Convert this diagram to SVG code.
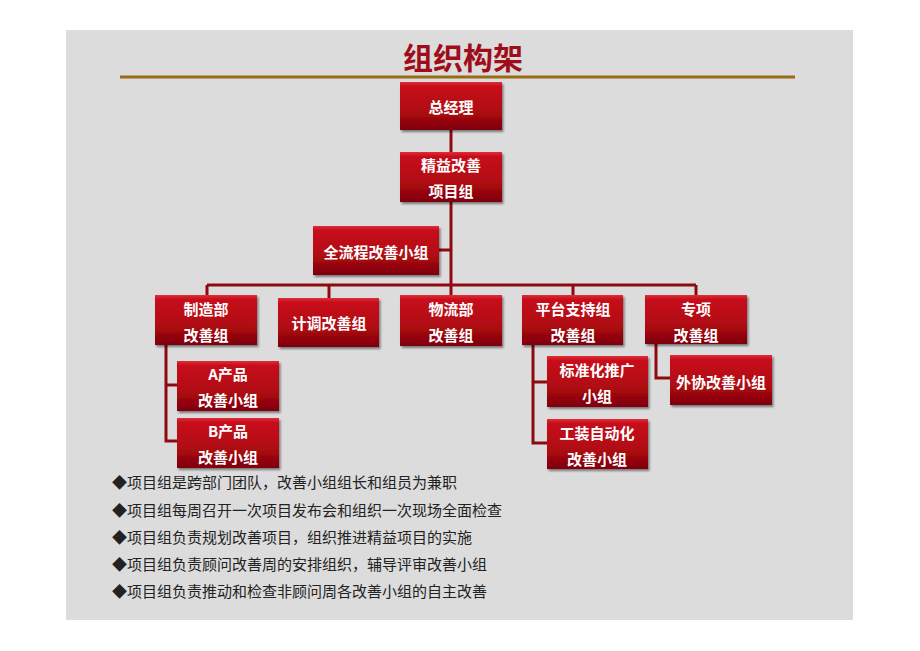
<svg xmlns="http://www.w3.org/2000/svg" width="920" height="651" viewBox="0 0 920 651">
<defs>
<linearGradient id="rg" x1="0" y1="0" x2="0" y2="1">
<stop offset="0" stop-color="#E0303A"/>
<stop offset="0.08" stop-color="#C8101C"/>
<stop offset="0.6" stop-color="#B00812"/>
<stop offset="1" stop-color="#7E040A"/>
</linearGradient>
<filter id="sh" x="-10%" y="-10%" width="125%" height="130%">
<feDropShadow dx="1.5" dy="2" stdDeviation="1.2" flood-color="#000" flood-opacity="0.45"/>
</filter>
<style>
.box{fill:url(#rg);filter:url(#sh);}
.t{font-family:"Noto Sans CJK SC","Liberation Sans",sans-serif;font-weight:bold;font-size:15px;fill:#fff;text-anchor:middle;dominant-baseline:central;}
.c{stroke:#8E0A10;stroke-width:3;fill:none;}
.b{font-family:"Liberation Serif","Noto Sans CJK SC",serif;font-size:15px;fill:#222;}
</style>
</defs>
<rect x="0" y="0" width="920" height="651" fill="#fff"/>
<rect x="66" y="30" width="787" height="590" fill="#DCDCDC"/>
<text x="463" y="56" font-family="Noto Sans CJK SC, sans-serif" font-weight="bold" font-size="30" fill="#A00D1A" text-anchor="middle" dominant-baseline="central">组织构架</text>
<line x1="120" y1="77" x2="795" y2="77" stroke="#9A6A17" stroke-width="3"/>
<g id="connectors">
<path class="c" d="M451 130V285"/>
<path class="c" d="M439 250H451"/>
<path class="c" d="M207 285H696"/>
<path class="c" d="M207 285V295M329 285V298M451 285V295M573 285V295M696 285V295"/>
<path class="c" d="M166 345V441H178M166 385H178"/>
<path class="c" d="M533 345V443H547M533 382H547"/>
<path class="c" d="M656 344V378H670"/>
</g>
<g id="n1"><rect class="box" x="400" y="82" width="102" height="48"/><text class="t" x="451" y="106">总经理</text></g>
<g id="n2"><rect class="box" x="400" y="152" width="102" height="50"/><text class="t" x="451" y="164">精益改善</text><text class="t" x="451" y="190">项目组</text></g>
<g id="n3"><rect class="box" x="313" y="226" width="126" height="49"/><text class="t" x="376" y="251">全流程改善小组</text></g>
<g id="n4"><rect class="box" x="155" y="295" width="102" height="50"/><text class="t" x="206" y="308">制造部</text><text class="t" x="206" y="334">改善组</text></g>
<g id="n5"><rect class="box" x="278" y="298" width="101" height="49"/><text class="t" x="329" y="322">计调改善组</text></g>
<g id="n6"><rect class="box" x="400" y="295" width="102" height="51"/><text class="t" x="451" y="308">物流部</text><text class="t" x="451" y="334">改善组</text></g>
<g id="n7"><rect class="box" x="522" y="295" width="101" height="50"/><text class="t" x="573" y="308">平台支持组</text><text class="t" x="573" y="334">改善组</text></g>
<g id="n8"><rect class="box" x="645" y="295" width="102" height="49"/><text class="t" x="696" y="308">专项</text><text class="t" x="696" y="334">改善组</text></g>
<g id="n9"><rect class="box" x="177" y="361" width="102" height="50"/><text class="t" x="228" y="373">A产品</text><text class="t" x="228" y="399">改善小组</text></g>
<g id="n10"><rect class="box" x="177" y="418" width="102" height="50"/><text class="t" x="228" y="430">B产品</text><text class="t" x="228" y="456">改善小组</text></g>
<g id="n11"><rect class="box" x="547" y="356" width="101" height="51"/><text class="t" x="597" y="369">标准化推广</text><text class="t" x="597" y="395">小组</text></g>
<g id="n12"><rect class="box" x="547" y="419" width="101" height="50"/><text class="t" x="597" y="432">工装自动化</text><text class="t" x="597" y="458">改善小组</text></g>
<g id="n13"><rect class="box" x="670" y="355" width="102" height="50"/><text class="t" x="721" y="381">外协改善小组</text></g>
<g id="notes">
<text class="b" x="112" y="488">◆项目组是跨部门团队，改善小组组长和组员为兼职</text>
<text class="b" x="112" y="516">◆项目组每周召开一次项目发布会和组织一次现场全面检查</text>
<text class="b" x="112" y="543">◆项目组负责规划改善项目，组织推进精益项目的实施</text>
<text class="b" x="112" y="570">◆项目组负责顾问改善周的安排组织，辅导评审改善小组</text>
<text class="b" x="112" y="597">◆项目组负责推动和检查非顾问周各改善小组的自主改善</text>
</g>
</svg>
